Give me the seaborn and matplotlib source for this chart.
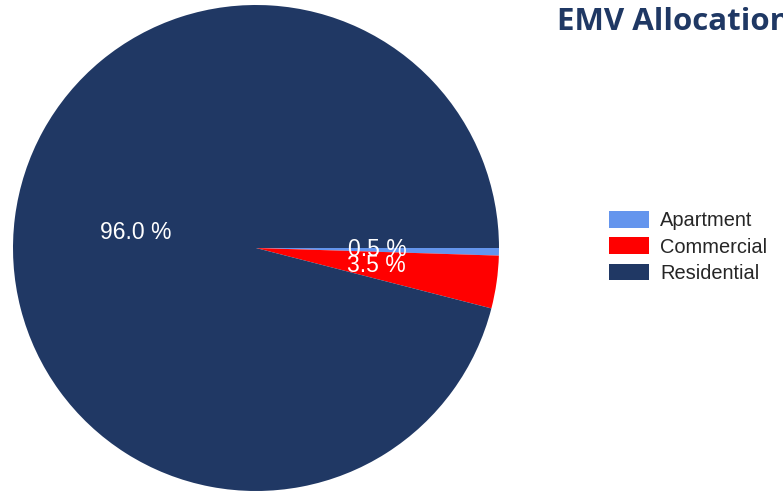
import matplotlib
matplotlib.use("Agg")
import matplotlib.pyplot as plt
import seaborn as sns

categories = ["Apartment", "Commercial", "Residential"]
shares = [0.5, 3.5, 96.0]
colors = ["#6495ED", "#FF0000", "#203864"]
title = "EMV Allocation"

sns.set_style("white")
plt.rcParams["font.family"] = ["Liberation Sans", "DejaVu Sans"]
palette = sns.color_palette(colors)

W, H = 783, 491
fig = plt.figure(figsize=(W / 100, H / 100), dpi=100)

# pie axes: centre (256, 248), radius 243 px
cx, cy, r = 256, 248, 243
ax = fig.add_axes([(cx - r) / W, (H - cy - r) / H, 2 * r / W, 2 * r / H])
wedges, _, autotexts = ax.pie(
    shares,
    colors=palette,
    startangle=0,
    counterclock=False,
    autopct="%.1f %%",
    pctdistance=0.5,
    wedgeprops=dict(linewidth=0),
    textprops=dict(color="white", fontsize=16.5),
)
ax.set_xlim(-1, 1)
ax.set_ylim(-1, 1)
ax.set_aspect("equal")
ax.axis("off")

leg = fig.legend(
    wedges,
    categories,
    loc="upper left",
    bbox_to_anchor=(609 / W, 1 - 211 / H),
    frameon=False,
    fontsize=14.4,
    handlelength=2.0,
    handleheight=0.9,
    handletextpad=0.55,
    labelspacing=0.36,
    borderpad=0,
    borderaxespad=0,
)

fig.text(557 / W, 1 - 22 / H, title, fontsize=22.5, fontweight="bold",
         color="#1F3864", family=["Open Sans", "DejaVu Sans"],
         ha="left", va="center")

fig.savefig("out.png", dpi=100)
